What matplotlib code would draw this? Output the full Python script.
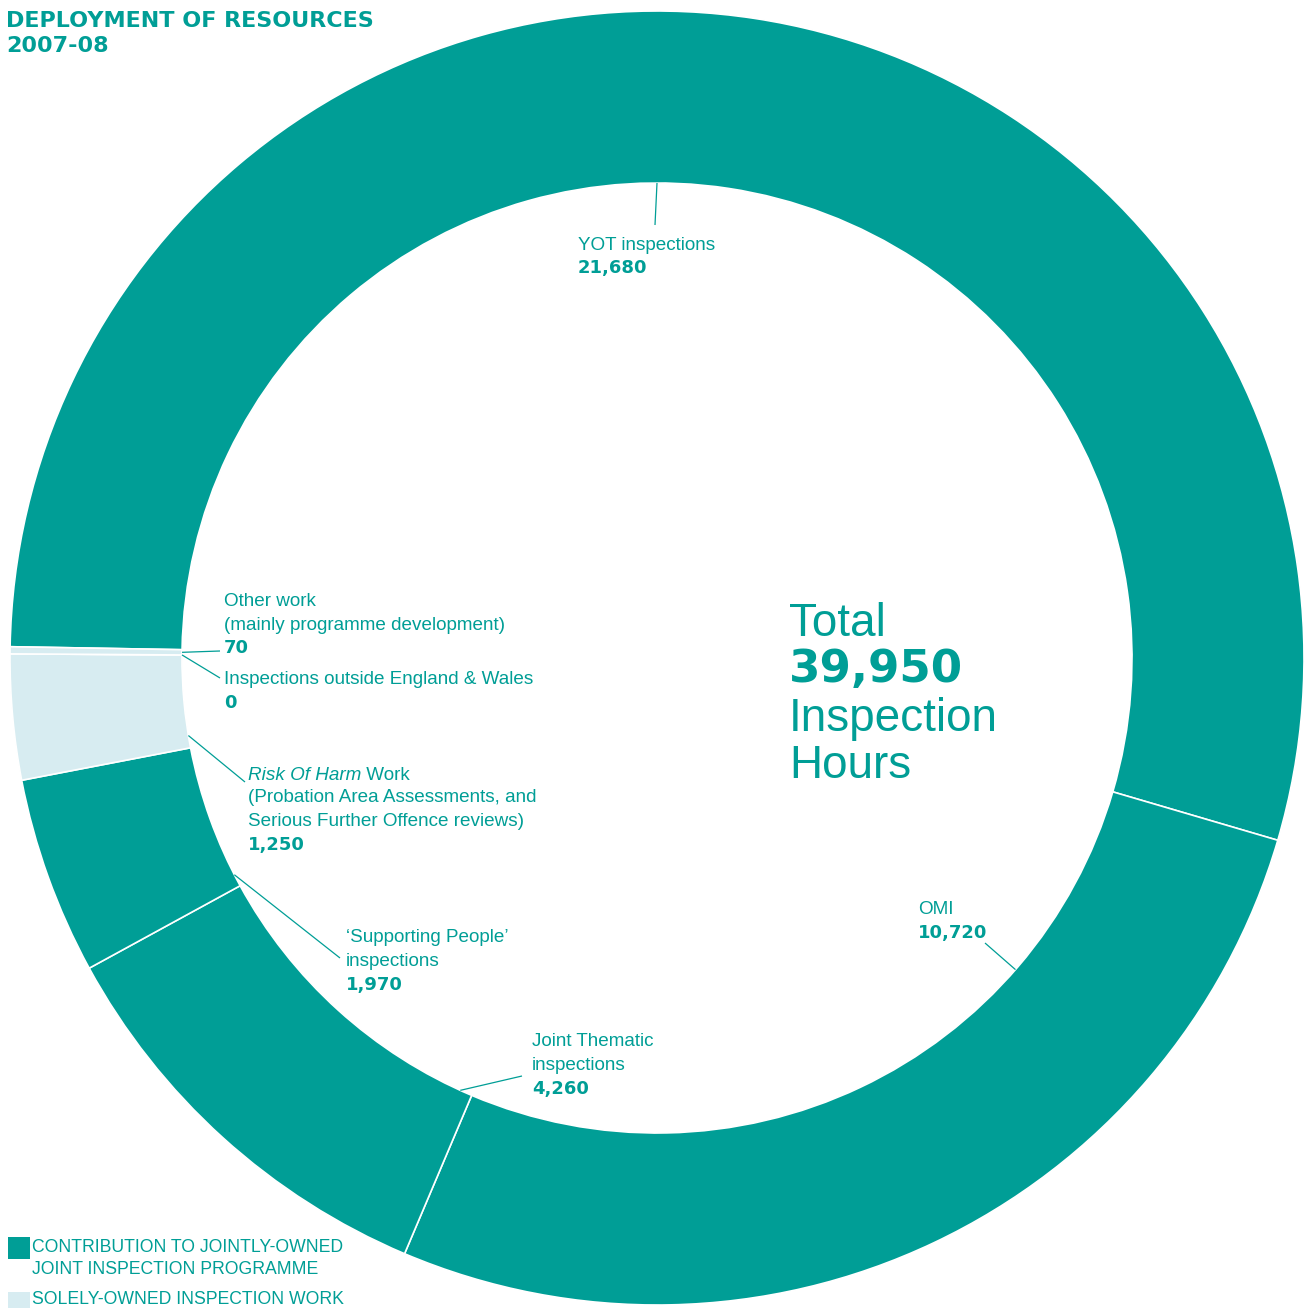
import numpy as np
import matplotlib
matplotlib.use("Agg")
import matplotlib.pyplot as plt
from matplotlib.patches import Rectangle

# ---------------- data ----------------
categories = ["YOT inspections", "OMI", "Joint Thematic inspections",
              "'Supporting People' inspections", "Risk Of Harm Work",
              "Inspections outside England & Wales", "Other work"]
hours = [21680, 10720, 4260, 1970, 1250, 0, 70]
ownership = ["joint", "joint", "joint", "joint", "sole", "sole", "sole"]
total_hours = 39950
legend_labels = ["CONTRIBUTION TO JOINTLY-OWNED\nJOINT INSPECTION PROGRAMME",
                 "SOLELY-OWNED INSPECTION WORK"]

# ---------------- style ----------------
TEAL = "#009E96"
LIGHT = "#D7ECF1"
W, H = 1311, 1308
REG = ["Liberation Sans", "DejaVu Sans"]
BOLD = ["DejaVu Sans"]

fig = plt.figure(figsize=(W / 100, H / 100), dpi=100)
ax = fig.add_axes([0, 0, 1, 1])

def P(px, py):
    return px, H - py

cx, cy = P(657, 658)
R_OUT, R_IN = 647, 475
start = 179.0

colors = [TEAL if o == "joint" else LIGHT for o in ownership]
ax.pie(hours, colors=colors, startangle=start, counterclock=False,
       radius=R_OUT, center=(cx, cy),
       wedgeprops=dict(width=R_OUT - R_IN, edgecolor="white", linewidth=1.2))
ax.set_xlim(0, W)
ax.set_ylim(0, H)
ax.set_aspect("equal")
ax.axis("off")

# ---------------- leader lines ----------------
cum = np.concatenate([[0], np.cumsum(hours)]) / total_hours * 360.0
pref_angles = [90, -41, -107.6, -136.5, -163, None, 179.2]
leader_ends = [(655, 225), (985, 943), (522, 1076), (340, 958), (245, 782),
               (220, 678), (220, 651)]
for i in range(len(hours)):
    hi = start - cum[i]
    lo = start - cum[i + 1]
    pa = pref_angles[i]
    if pa is None or hi - lo <= 0:
        a = 0.5 * (hi + lo)
    else:
        a = lo + ((pa - lo) % 360)
        m = min(1.5, (hi - lo) / 2)
        if a > hi - m:
            d_hi = a - (hi - m)
            d_lo = (lo + m + 360) - a
            a = hi - m if d_hi <= d_lo else lo + m
        a = min(max(a, lo + m), hi - m)
    r = np.deg2rad(a)
    x0, y0 = cx + R_IN * np.cos(r), cy + R_IN * np.sin(r)
    x1, y1 = P(*leader_ends[i])
    ax.plot([x0, x1], [y0, y1], color=TEAL, lw=0.9, solid_capstyle="butt")

# ---------------- labels ----------------
FS = 13.6
FSB = 13.0

def lab(px, py, s, bold=False, style="normal", size=None, family=None):
    x, y = P(px, py)
    return ax.text(x, y, s, color=TEAL, va="center", ha="left",
                   family=family if family else (BOLD if bold else REG),
                   fontweight="bold" if bold else "normal",
                   fontstyle=style,
                   fontsize=size if size else (FSB if bold else FS))

def fmt(v):
    return f"{v:,}"

# YOT
lab(578, 245, "YOT inspections")
lab(578, 268, fmt(hours[0]), bold=True)
# OMI
lab(918, 910, "OMI")
lab(918, 933, fmt(hours[1]), bold=True)
# Joint thematic
lab(532, 1042, "Joint Thematic")
lab(532, 1066, "inspections")
lab(532, 1089, fmt(hours[2]), bold=True)
# Supporting People
lab(346, 938, "\u2018Supporting People\u2019")
lab(346, 962, "inspections")
lab(346, 985, fmt(hours[3]), bold=True)
# Risk of harm
t_it = lab(248, 775, "Risk Of Harm", style="italic")
fig.canvas.draw()
bb = t_it.get_window_extent(renderer=fig.canvas.get_renderer())
inv = ax.transData.inverted()
xe = inv.transform((bb.x1, bb.y0))[0]
ax.text(xe, H - 775, " Work", color=TEAL, va="center", ha="left",
        family=REG, fontsize=FS)
lab(248, 798, "(Probation Area Assessments, and")
lab(248, 822, "Serious Further Offence reviews)")
lab(248, 845, fmt(hours[4]), bold=True)
# Zero
lab(224, 679, "Inspections outside England & Wales")
lab(224, 703, fmt(hours[5]), bold=True)
# Other work
lab(224, 602, "Other work")
lab(224, 626, "(mainly programme development)")
lab(224, 648, fmt(hours[6]), bold=True)

# centre total
lab(789, 624, "Total", size=33)
lab(789, 670, fmt(total_hours), bold=True, size=32.5)
lab(789, 719, "Inspection", size=33)
lab(789, 766, "Hours", size=33)

# title
lab(6, 21, "DEPLOYMENT OF RESOURCES", bold=True, size=16)
lab(6, 46, "2007-08", bold=True, size=16)

# legend
LEG = ["Liberation Sans", "DejaVu Sans"]
for (py_box, h_box, col) in [(1237, 22, TEAL), (1292, 22, LIGHT)]:
    x, y = P(8, py_box + h_box)
    ax.add_patch(Rectangle((x, y), 22, h_box, facecolor=col, edgecolor="none",
                           clip_on=False))
lines1 = legend_labels[0].split("\n")
for s, py in zip(lines1, [1247, 1270]):
    lab(32, py, s, size=12.7, family=LEG)
lab(32, 1300, legend_labels[1], size=12.7, family=LEG)

fig.savefig("out.png", dpi=100, facecolor="white")
